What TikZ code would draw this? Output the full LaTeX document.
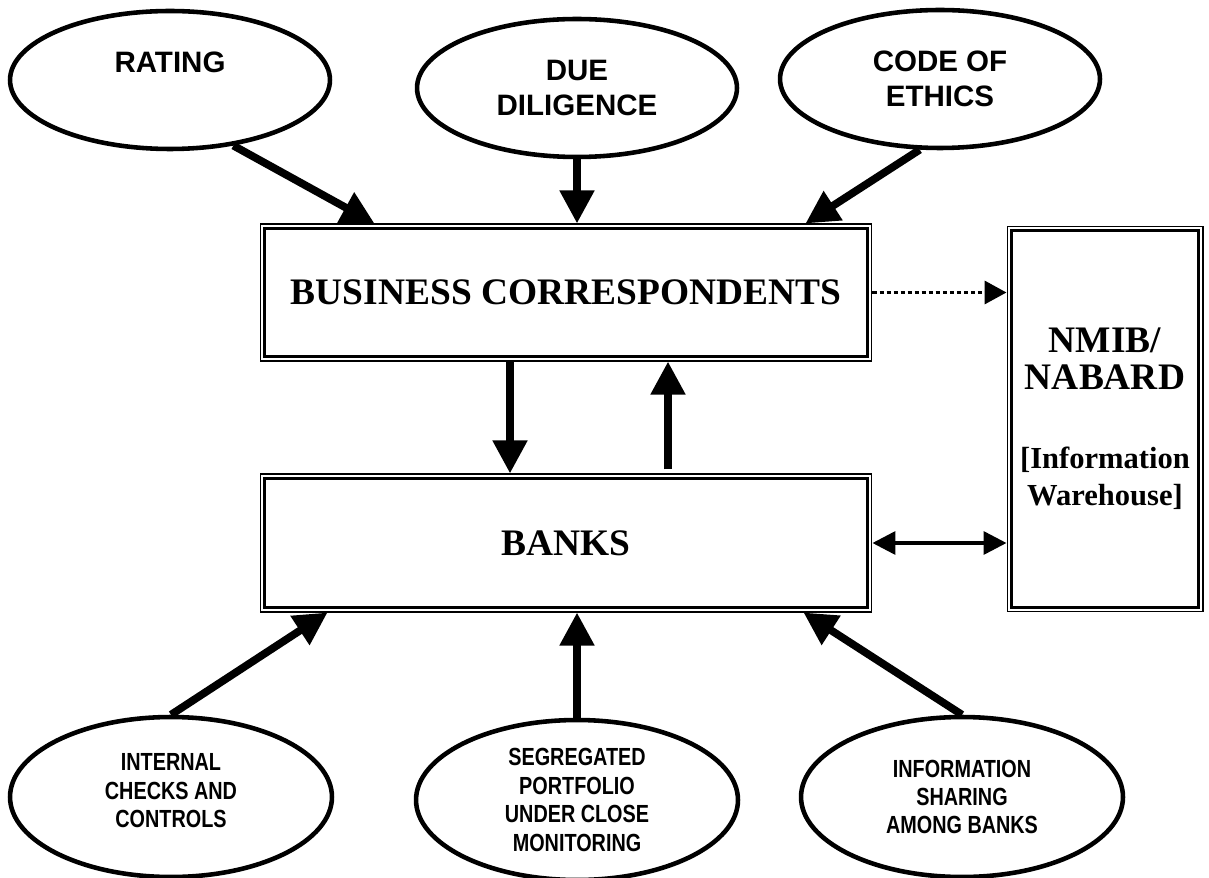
\documentclass[tikz,border=0pt]{standalone}
\usepackage{fontspec}
\setmainfont{Liberation Serif}
\newfontfamily\arialfont{Liberation Sans}
\newfontfamily\narrowfont[FakeStretch=0.8]{Liberation Sans}
\usetikzlibrary{shapes.geometric,arrows.meta}
\newcommand{\nmsmall}{\fontsize{17.4}{18.8}\selectfont}
\begin{document}
\begin{tikzpicture}[x=0.02cm, y=-0.02cm,
    topoval/.style={ellipse, draw, line width=2.6pt, minimum width=6.4cm, minimum height=2.76cm, inner sep=0pt, align=center, font=\arialfont\bfseries\fontsize{16.8}{19.9}\selectfont},
    lowoval/.style={ellipse, draw, line width=2.6pt, minimum width=6.44cm, minimum height=3.2cm, inner sep=0pt, align=center, font=\narrowfont\bfseries\fontsize{14.1}{16.2}\selectfont},
    dbox/.style={draw, line width=0.6pt, inner sep=0pt, align=center, font=\bfseries\fontsize{21.3}{21}\selectfont},
    bigarrow/.style={line width=4.4pt, -{Triangle[length=0.66cm, width=0.66cm]}},
    dotarrow/.style={line width=2pt, dash pattern=on 2.6pt off 1.4pt, -{Triangle[length=0.44cm, width=0.46cm]}},
    botharrow/.style={line width=2pt, {Triangle[length=0.46cm, width=0.46cm]}-{Triangle[length=0.46cm, width=0.46cm]}}]
  \useasboundingbox (0,0) rectangle (1209,878);
  % top ovals
  \node[topoval] (rating) at (170,80) {RATING\\\phantom{X}};
  \node[topoval] (due) at (577,88) {DUE\\DILIGENCE};
  \node[topoval] (ethics) at (940,79) {CODE OF\\ETHICS};
  % framed boxes
  \node[dbox, minimum width=12.24cm, minimum height=2.74cm] (bc) at (566,292.5) {BUSINESS CORRESPONDENTS};
  \node[dbox, minimum width=12.24cm, minimum height=2.76cm] (banks) at (566,543) {BANKS};
  \node[dbox, minimum width=3.92cm, minimum height=7.72cm] (nmib) at (1105,419)
    {NMIB/\\NABARD\\[24pt]\nmsmall{[}Information\\\nmsmall Warehouse]};
  \foreach \b in {bc,banks,nmib} {
    \draw[line width=1.4pt] ([shift={(5,5)}]\b.north west) rectangle ([shift={(-5,-5)}]\b.south east);
  }
  % bottom ovals
  \node[lowoval] (internal) at (171,797) {INTERNAL\\CHECKS AND\\CONTROLS\\[-9pt]};
  \node[lowoval] (segreg) at (577,800) {SEGREGATED\\PORTFOLIO\\UNDER CLOSE\\MONITORING};
  \node[lowoval] (sharing) at (962,797) {INFORMATION\\SHARING\\AMONG BANKS};
  % arrows into the boxes
  \draw[bigarrow] (rating.-46) -- ([shift={(115,0)}]bc.north west);
  \draw[bigarrow] (due.south) -- (due.south |- bc.north);
  \draw[bigarrow] (ethics.-106) -- ([shift={(-67,0)}]bc.north east);
  \draw[bigarrow] ([shift={(-56,0)}]bc.south) -- ([shift={(-56,0)}]banks.north);
  \draw[bigarrow] ([shift={(102,-4)}]banks.north) -- ([shift={(102,0)}]bc.south);
  \draw[dotarrow] (bc.east) -- (bc.east -| nmib.west);
  \draw[botharrow] (banks.east) -- (banks.east -| nmib.west);
  \draw[bigarrow] (internal.north) -- ([shift={(68,0)}]banks.south west);
  \draw[bigarrow] (segreg.north) -- (segreg.north |- banks.south);
  \draw[bigarrow] (sharing.north) -- ([shift={(-69,0)}]banks.south east);
\end{tikzpicture}
\end{document}
